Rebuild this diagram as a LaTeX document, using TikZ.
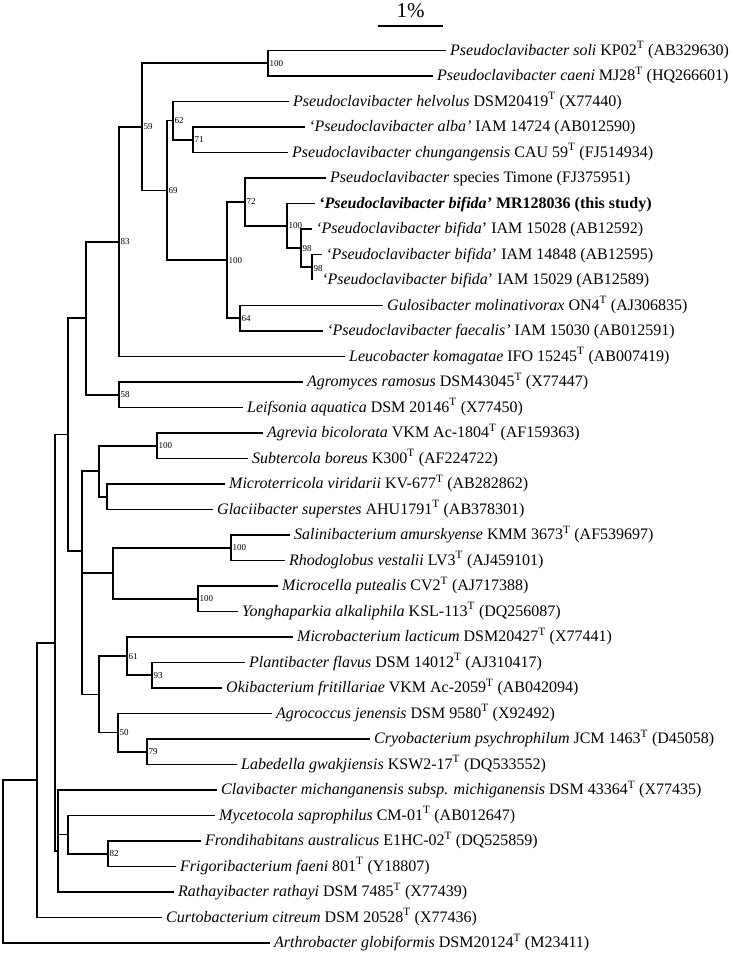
\documentclass[tikz,border=0pt]{standalone}
\usepackage{fontspec}
\setmainfont{Liberation Serif}
\usepackage{tikz}
\newcommand{\typestrain}{\textsuperscript{T}}

\begin{document}
\begin{tikzpicture}[
    x=1pt, y=-1pt,
    branch/.style={line width=1.6pt},
    leaf/.style={anchor=west, inner xsep=4pt, inner ysep=0pt, text height=12pt, text depth=3pt, font=\fontsize{16}{19}\selectfont},
    boot/.style={anchor=west, inner sep=1.5pt, font=\fontsize{9}{10}\selectfont}
]
\useasboundingbox (0,0) rectangle (733,956);

% Scale bar
\coordinate (barL) at (378,26);
\coordinate (barR) at (443,26);
\draw[branch] (barL) -- (barR);
\node[font=\fontsize{21}{24}\selectfont] (barlabel) at (410.5,11) {1\%};

% Internal nodes
\coordinate (cSoli)   at (268,63.25);
\coordinate (cAlba)   at (193,139.75);
\coordinate (cHelv)   at (173,120.6);
\coordinate (cIam48)  at (312,267.25);
\coordinate (cIam28)  at (301,248.1);
\coordinate (cBifida) at (287,225.8);
\coordinate (cTimone) at (245,201.9);
\coordinate (cGulo)   at (240,318.25);
\coordinate (cPseudo) at (227,260.1);
\coordinate (cNine)   at (167,190.4);
\coordinate (cFive)   at (142,126.8);
\coordinate (cLeuco)  at (119,241.7);
\coordinate (cAgromy) at (119,394.75);
\coordinate (cUpper)  at (86,318.2);
\coordinate (cAgrev)  at (157,445.75);
\coordinate (cMicrot) at (107,496.75);
\coordinate (cSubter) at (99,471.25);
\coordinate (cSalini) at (231,547.75);
\coordinate (cMicroc) at (198,598.75);
\coordinate (cRhodo)  at (113,573.25);
\coordinate (cPlanti) at (152,675.25);
\coordinate (cMicrob) at (127,656.1);
\coordinate (cCryo)   at (147,751.75);
\coordinate (cAgroc)  at (118,732.6);
\coordinate (cLacti)  at (99,694.4);
\coordinate (cMiddle) at (82,551);
\coordinate (cMain)   at (68,434.6);
\coordinate (cFrondi) at (108,853.75);
\coordinate (cMyceto) at (68,834.6);
\coordinate (cClavi)  at (58,851);
\coordinate (cAll)    at (55,642.8);
\coordinate (cCurto)  at (37,780.2);
\coordinate (root)    at (3,861.6);

% Leaves
\node[leaf] (soli)    at (446,50.5)  {\textit{Pseudoclavibacter soli} KP02\typestrain{} (AB329630)};
\node[leaf] (caeni)   at (433,76)    {\textit{Pseudoclavibacter caeni} MJ28\typestrain{} (HQ266601)};
\node[leaf] (helvolus) at (289,101.5) {\textit{Pseudoclavibacter helvolus} DSM20419\typestrain{} (X77440)};
\node[leaf] (alba)    at (305,127)   {\textit{‘Pseudoclavibacter alba’} IAM 14724 (AB012590)};
\node[leaf] (chung)   at (288,152.5) {\textit{Pseudoclavibacter chungangensis} CAU 59\typestrain{} (FJ514934)};
\node[leaf] (timone)  at (326,178)   {\textit{Pseudoclavibacter} species Timone (FJ375951)};
\node[leaf] (bifida)  at (315,203.5) {\textbf{\textit{‘Pseudoclavibacter bifida’} MR128036 (this study)}};
\node[leaf] (iam28)   at (312,229)   {\textit{‘Pseudoclavibacter bifida}’ IAM 15028 (AB12592)};
\node[leaf] (iam48)   at (322,254.5) {\textit{‘Pseudoclavibacter bifida}’ IAM 14848 (AB12595)};
\node[leaf, inner xsep=10pt] (iam29) at (312,280) {\textit{‘Pseudoclavibacter bifida}’ IAM 15029 (AB12589)};
\node[leaf] (gulo)    at (383,305.5) {\textit{Gulosibacter molinativorax} ON4\typestrain{} (AJ306835)};
\node[leaf] (faec)    at (323,331)   {\textit{‘Pseudoclavibacter faecalis’} IAM 15030 (AB012591)};
\node[leaf] (leuco)   at (345,356.5) {\textit{Leucobacter komagatae} IFO 15245\typestrain{} (AB007419)};
\node[leaf] (agromy)  at (303,382)   {\textit{Agromyces ramosus} DSM43045\typestrain{} (X77447)};
\node[leaf] (leifs)   at (243,407.5) {\textit{Leifsonia aquatica} DSM 20146\typestrain{} (X77450)};
\node[leaf] (agrevia) at (263,433)   {\textit{Agrevia bicolorata} VKM Ac-1804\typestrain{} (AF159363)};
\node[leaf] (subter)  at (248,458.5) {\textit{Subtercola boreus} K300\typestrain{} (AF224722)};
\node[leaf] (microt)  at (225,484)   {\textit{Microterricola viridarii} KV-677\typestrain{} (AB282862)};
\node[leaf] (glacii)  at (213,509.5) {\textit{Glaciibacter superstes} AHU1791\typestrain{} (AB378301)};
\node[leaf] (salini)  at (290,535)   {\textit{Salinibacterium amurskyense} KMM 3673\typestrain{} (AF539697)};
\node[leaf] (rhodo)   at (285,560.5) {\textit{Rhodoglobus vestalii} LV3\typestrain{} (AJ459101)};
\node[leaf] (microc)  at (278,586)   {\textit{Microcella putealis} CV2\typestrain{} (AJ717388)};
\node[leaf] (yongha)  at (238,611.5) {\textit{Yonghaparkia alkaliphila} KSL-113\typestrain{} (DQ256087)};
\node[leaf] (microb)  at (293,637)   {\textit{Microbacterium lacticum} DSM20427\typestrain{} (X77441)};
\node[leaf] (planti)  at (245,662.5) {\textit{Plantibacter flavus} DSM 14012\typestrain{} (AJ310417)};
\node[leaf] (okib)    at (222,688)   {\textit{Okibacterium fritillariae} VKM Ac-2059\typestrain{} (AB042094)};
\node[leaf] (agroc)   at (272,713.5) {\textit{Agrococcus jenensis} DSM 9580\typestrain{} (X92492)};
\node[leaf] (cryo)    at (370,739)   {\textit{Cryobacterium psychrophilum} JCM 1463\typestrain{} (D45058)};
\node[leaf] (labed)   at (237,764.5) {\textit{Labedella gwakjiensis} KSW2-17\typestrain{} (DQ533552)};
\node[leaf] (clavi)   at (217,790)   {\textit{Clavibacter michanganensis subsp. michiganensis} DSM 43364\typestrain{} (X77435)};
\node[leaf] (myceto)  at (215,815.5) {\textit{Mycetocola saprophilus} CM-01\typestrain{} (AB012647)};
\node[leaf] (frondi)  at (201,841)   {\textit{Frondihabitans australicus} E1HC-02\typestrain{} (DQ525859)};
\node[leaf] (frigo)   at (176,866.5) {\textit{Frigoribacterium faeni} 801\typestrain{} (Y18807)};
\node[leaf] (rathay)  at (174,892)   {\textit{Rathayibacter rathayi} DSM 7485\typestrain{} (X77439)};
\node[leaf] (curto)   at (162,917.5) {\textit{Curtobacterium citreum} DSM 20528\typestrain{} (X77436)};
\node[leaf] (arthro)  at (270,943)   {\textit{Arthrobacter globiformis} DSM20124\typestrain{} (M23411)};

% Branches
\draw[branch] (cSoli) |- (soli.west);
\draw[branch] (cSoli) |- (caeni.west);
\draw[branch] (cHelv) |- (helvolus.west);
\draw[branch] (cHelv) |- (cAlba);
\draw[branch] (cAlba) |- (alba.west);
\draw[branch] (cAlba) |- (chung.west);
\draw[branch] (cIam48) |- (iam48.west);
\draw[branch] (cIam48) |- (iam29.west);
\draw[branch] (cIam28) |- (iam28.west);
\draw[branch] (cIam28) |- (cIam48);
\draw[branch] (cBifida) |- (bifida.west);
\draw[branch] (cBifida) |- (cIam28);
\draw[branch] (cTimone) |- (timone.west);
\draw[branch] (cTimone) |- (cBifida);
\draw[branch] (cGulo) |- (gulo.west);
\draw[branch] (cGulo) |- (faec.west);
\draw[branch] (cPseudo) |- (cTimone);
\draw[branch] (cPseudo) |- (cGulo);
\draw[branch] (cNine) |- (cHelv);
\draw[branch] (cNine) |- (cPseudo);
\draw[branch] (cFive) |- (cSoli);
\draw[branch] (cFive) |- (cNine);
\draw[branch] (cLeuco) |- (cFive);
\draw[branch] (cLeuco) |- (leuco.west);
\draw[branch] (cAgromy) |- (agromy.west);
\draw[branch] (cAgromy) |- (leifs.west);
\draw[branch] (cUpper) |- (cLeuco);
\draw[branch] (cUpper) |- (cAgromy);
\draw[branch] (cAgrev) |- (agrevia.west);
\draw[branch] (cAgrev) |- (subter.west);
\draw[branch] (cMicrot) |- (microt.west);
\draw[branch] (cMicrot) |- (glacii.west);
\draw[branch] (cSubter) |- (cAgrev);
\draw[branch] (cSubter) |- (cMicrot);
\draw[branch] (cSalini) |- (salini.west);
\draw[branch] (cSalini) |- (rhodo.west);
\draw[branch] (cMicroc) |- (microc.west);
\draw[branch] (cMicroc) |- (yongha.west);
\draw[branch] (cRhodo) |- (cSalini);
\draw[branch] (cRhodo) |- (cMicroc);
\draw[branch] (cPlanti) |- (planti.west);
\draw[branch] (cPlanti) |- (okib.west);
\draw[branch] (cMicrob) |- (microb.west);
\draw[branch] (cMicrob) |- (cPlanti);
\draw[branch] (cCryo) |- (cryo.west);
\draw[branch] (cCryo) |- (labed.west);
\draw[branch] (cAgroc) |- (agroc.west);
\draw[branch] (cAgroc) |- (cCryo);
\draw[branch] (cLacti) |- (cMicrob);
\draw[branch] (cLacti) |- (cAgroc);
\draw[branch] (cMiddle) |- (cSubter);
\draw[branch] (cMiddle) |- (cRhodo);
\draw[branch] (cMiddle) |- (cLacti);
\draw[branch] (cMain) |- (cUpper);
\draw[branch] (cMain) |- (cMiddle);
\draw[branch] (cFrondi) |- (frondi.west);
\draw[branch] (cFrondi) |- (frigo.west);
\draw[branch] (cMyceto) |- (myceto.west);
\draw[branch] (cMyceto) |- (cFrondi);
\draw[branch] (cClavi) |- (clavi.west);
\draw[branch] (cClavi) |- (cMyceto);
\draw[branch] (cClavi) |- (rathay.west);
\draw[branch] (cAll) |- (cMain);
\draw[branch] (cAll) |- (cClavi);
\draw[branch] (cCurto) |- (cAll);
\draw[branch] (cCurto) |- (curto.west);
\draw[branch] (root) |- (cCurto);
\draw[branch] (root) |- (arthro.west);

% Bootstrap values
\node[boot] (bSoli)   at (cSoli)   {100};
\node[boot] (bHelv)   at (cHelv)   {62};
\node[boot] (bAlba)   at (cAlba)   {71};
\node[boot] (bNine)   at (cNine)   {69};
\node[boot] (bFive)   at (cFive)   {59};
\node[boot] (bTimone) at (cTimone) {72};
\node[boot] (bPseudo) at (cPseudo) {100};
\node[boot] (bBifida) at (cBifida) {100};
\node[boot] (bIam28)  at (cIam28)  {98};
\node[boot] (bIam48)  at ([yshift=-1pt]cIam48) {98};
\node[boot] (bGulo)   at (cGulo)   {64};
\node[boot] (bLeuco)  at (cLeuco)  {83};
\node[boot] (bAgromy) at (cAgromy) {58};
\node[boot] (bAgrev)  at (cAgrev)  {100};
\node[boot] (bSalini) at (cSalini) {100};
\node[boot] (bMicroc) at (cMicroc) {100};
\node[boot] (bMicrob) at (cMicrob) {61};
\node[boot] (bPlanti) at (cPlanti) {93};
\node[boot] (bAgroc)  at (cAgroc)  {50};
\node[boot] (bCryo)   at (cCryo)   {79};
\node[boot] (bFrondi) at (cFrondi) {82};

\end{tikzpicture}
\end{document}
